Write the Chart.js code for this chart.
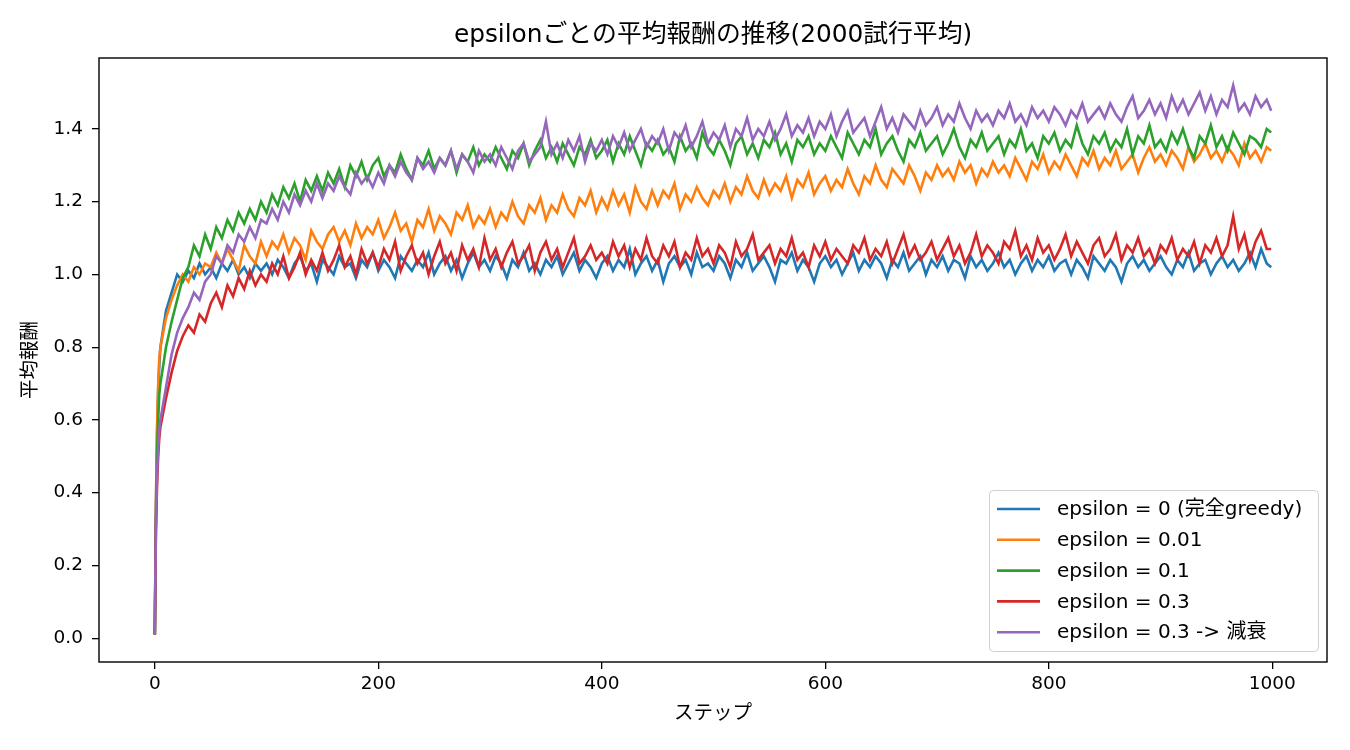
<!DOCTYPE html>
<html>
<head>
<meta charset="utf-8">
<script src="https://cdn.jsdelivr.net/npm/chart.js@4.4.1/dist/chart.umd.min.js"></script>
<style>
  html, body { margin: 0; padding: 0; background: #ffffff; }
  #c { display: block; }
</style>
</head>
<body>
<canvas id="c" width="1350" height="750"></canvas>
<script>
const steps = [
  0, 1, 2, 3, 4,
  5, 10, 15, 20, 25, 30, 35, 40, 45,
  50, 55, 60, 65, 70, 75, 80, 85, 90, 95,
  100, 105, 110, 115, 120, 125, 130, 135, 140, 145,
  150, 155, 160, 165, 170, 175, 180, 185, 190, 195,
  200, 205, 210, 215, 220, 225, 230, 235, 240, 245,
  250, 255, 260, 265, 270, 275, 280, 285, 290, 295,
  300, 305, 310, 315, 320, 325, 330, 335, 340, 345,
  350, 355, 360, 365, 370, 375, 380, 385, 390, 395,
  400, 405, 410, 415, 420, 425, 430, 435, 440, 445,
  450, 455, 460, 465, 470, 475, 480, 485, 490, 495,
  500, 505, 510, 515, 520, 525, 530, 535, 540, 545,
  550, 555, 560, 565, 570, 575, 580, 585, 590, 595,
  600, 605, 610, 615, 620, 625, 630, 635, 640, 645,
  650, 655, 660, 665, 670, 675, 680, 685, 690, 695,
  700, 705, 710, 715, 720, 725, 730, 735, 740, 745,
  750, 755, 760, 765, 770, 775, 780, 785, 790, 795,
  800, 805, 810, 815, 820, 825, 830, 835, 840, 845,
  850, 855, 860, 865, 870, 875, 880, 885, 890, 895,
  900, 905, 910, 915, 920, 925, 930, 935, 940, 945,
  950, 955, 960, 965, 970, 975, 980, 985, 990, 995,
  999
];

const greedy0 = [
  0.01, 0.36, 0.56, 0.68, 0.75,
  0.80, 0.90, 0.95, 1.00, 0.98, 1.01, 0.99, 1.03, 1.00,
  1.02, 0.99, 1.03, 1.01, 1.04, 1.00, 1.02, 0.99, 1.03, 1.01,
  1.03, 1.00, 1.04, 1.02, 0.99, 1.03, 1.05, 1.01, 1.03, 0.98,
  1.04, 1.02, 1.00, 1.05, 1.02, 1.03, 0.99, 1.04, 1.02, 1.06,
  1.01, 1.04, 1.02, 0.99, 1.05, 1.03, 1.01, 1.04, 1.02, 1.06,
  1.00, 1.03, 1.05, 1.01, 1.04, 0.99, 1.03, 1.06, 1.02, 1.04,
  1.01, 1.05, 1.03, 0.99, 1.04, 1.02, 1.06, 1.01, 1.03, 1.00,
  1.04, 1.02, 1.05, 1.00, 1.03, 1.06, 1.01, 1.04, 1.02, 0.99,
  1.03, 1.05, 1.01, 1.04, 1.02, 1.07, 1.00, 1.03, 1.05, 1.01,
  1.04, 0.98, 1.03, 1.05, 1.02, 1.04, 1.00, 1.06, 1.02, 1.03,
  1.01, 1.05, 1.03, 0.99, 1.04, 1.02, 1.06, 1.01, 1.03, 1.05,
  1.02, 0.98, 1.04, 1.03, 1.06, 1.01, 1.04, 1.02, 0.98, 1.03,
  1.05, 1.02, 1.04, 1.00, 1.03, 1.06, 1.01, 1.04, 1.02, 1.05,
  1.03, 0.99, 1.04, 1.02, 1.06, 1.01, 1.03, 1.05, 1.00, 1.04,
  1.02, 1.05, 1.01, 1.04, 1.03, 0.99, 1.05, 1.02, 1.04, 1.01,
  1.03, 1.06, 1.02, 1.04, 1.00, 1.03, 1.05, 1.01, 1.04, 1.02,
  1.05, 1.01, 1.03, 1.04, 1.00, 1.04, 1.02, 0.99, 1.05, 1.03,
  1.01, 1.04, 1.02, 0.98, 1.03, 1.05, 1.02, 1.04, 1.01, 1.03,
  1.05, 1.02, 1.00, 1.04, 1.02, 1.06, 1.01, 1.03, 1.04, 1.00,
  1.03, 1.05, 1.02, 1.04, 1.01, 1.03, 1.06, 1.02, 1.07, 1.03,
  1.02
];

const eps001 = [
  0.01, 0.37, 0.58, 0.70, 0.77,
  0.80, 0.88, 0.93, 0.97, 1.00, 0.98, 1.02, 1.00, 1.03,
  1.02, 1.06, 1.03, 1.07, 1.04, 1.01, 1.08, 1.05, 1.03, 1.09,
  1.05, 1.09, 1.07, 1.11, 1.06, 1.10, 1.08, 1.04, 1.12, 1.09,
  1.07, 1.11, 1.13, 1.09, 1.12, 1.08, 1.14, 1.10, 1.13, 1.11,
  1.15, 1.10, 1.13, 1.17, 1.12, 1.14, 1.09, 1.15, 1.13, 1.18,
  1.12, 1.16, 1.14, 1.11, 1.17, 1.15, 1.19, 1.13, 1.16, 1.14,
  1.18, 1.13, 1.17, 1.15, 1.20, 1.16, 1.14, 1.19, 1.17, 1.21,
  1.15, 1.19, 1.17, 1.22, 1.18, 1.16, 1.21, 1.19, 1.23, 1.17,
  1.21, 1.18, 1.23, 1.19, 1.22, 1.17, 1.24, 1.20, 1.18, 1.23,
  1.19, 1.23, 1.21, 1.25, 1.18, 1.22, 1.20, 1.24, 1.21, 1.19,
  1.23, 1.21, 1.25, 1.20, 1.24, 1.22, 1.27, 1.23, 1.21, 1.26,
  1.22, 1.25, 1.23, 1.27, 1.21, 1.26, 1.24, 1.28, 1.22, 1.25,
  1.27, 1.23, 1.26, 1.24, 1.29, 1.25, 1.22, 1.27, 1.25, 1.30,
  1.26, 1.24, 1.29, 1.27, 1.25, 1.30, 1.27, 1.23, 1.28, 1.26,
  1.30, 1.27, 1.29, 1.26, 1.31, 1.28, 1.30, 1.25, 1.29, 1.27,
  1.31, 1.28, 1.30, 1.27, 1.32, 1.29, 1.26, 1.31, 1.29, 1.33,
  1.28, 1.31, 1.29, 1.33, 1.30, 1.27, 1.32, 1.30, 1.34, 1.29,
  1.32, 1.30, 1.34, 1.29, 1.31, 1.33, 1.28, 1.32, 1.35, 1.31,
  1.33, 1.30, 1.34, 1.32, 1.29, 1.35, 1.31, 1.33, 1.36, 1.32,
  1.34, 1.31, 1.35, 1.33, 1.30, 1.36, 1.32, 1.34, 1.31, 1.35,
  1.34
];

const eps01 = [
  0.01, 0.33, 0.50, 0.60, 0.67,
  0.70, 0.80, 0.87, 0.93, 0.99, 1.02, 1.08, 1.05, 1.11,
  1.07, 1.13, 1.10, 1.15, 1.12, 1.17, 1.14, 1.18, 1.15, 1.20,
  1.17, 1.22, 1.19, 1.24, 1.21, 1.25, 1.20, 1.26, 1.23, 1.27,
  1.23, 1.28, 1.25, 1.29, 1.24, 1.30, 1.27, 1.31, 1.26, 1.30,
  1.32, 1.27, 1.30, 1.28, 1.33, 1.29, 1.26, 1.32, 1.30, 1.34,
  1.29, 1.32, 1.30, 1.34, 1.28, 1.33, 1.31, 1.35, 1.30, 1.33,
  1.31, 1.35, 1.32, 1.29, 1.34, 1.32, 1.36, 1.30, 1.34, 1.37,
  1.32, 1.35, 1.31, 1.36, 1.33, 1.30, 1.35, 1.33, 1.37, 1.32,
  1.34, 1.37, 1.31, 1.36, 1.33, 1.38, 1.34, 1.30, 1.36, 1.34,
  1.37, 1.33, 1.35, 1.31, 1.38, 1.34, 1.36, 1.32, 1.39, 1.35,
  1.33, 1.37, 1.34, 1.30, 1.36, 1.38, 1.33, 1.36, 1.32, 1.37,
  1.35, 1.39, 1.33, 1.36, 1.31, 1.37, 1.35, 1.38, 1.33, 1.36,
  1.34, 1.38, 1.35, 1.32, 1.39, 1.36, 1.33, 1.37, 1.35, 1.40,
  1.33, 1.36, 1.38, 1.34, 1.31, 1.37, 1.35, 1.39, 1.34, 1.36,
  1.38, 1.33, 1.36, 1.40, 1.35, 1.32, 1.37, 1.35, 1.39, 1.34,
  1.36, 1.38, 1.33, 1.37, 1.35, 1.40, 1.34, 1.36, 1.32, 1.38,
  1.36, 1.39, 1.34, 1.37, 1.35, 1.41, 1.36, 1.33, 1.38, 1.36,
  1.39, 1.34, 1.37, 1.35, 1.40, 1.33, 1.38, 1.36, 1.41, 1.35,
  1.37, 1.34, 1.39, 1.36, 1.40, 1.35, 1.32, 1.38, 1.36, 1.41,
  1.35, 1.38, 1.34, 1.39, 1.36, 1.33, 1.38, 1.37, 1.35, 1.40,
  1.39
];

const eps03 = [
  0.01, 0.30, 0.42, 0.50, 0.55,
  0.58, 0.66, 0.73, 0.79, 0.83, 0.86, 0.84, 0.89, 0.87,
  0.92, 0.95, 0.91, 0.97, 0.94, 0.99, 0.96, 1.01, 0.97, 1.00,
  0.98, 1.03, 1.00, 1.05, 0.99, 1.02, 1.06, 1.00, 1.04, 1.01,
  1.06, 1.01, 1.04, 1.08, 1.02, 1.05, 1.00, 1.07, 1.03, 1.06,
  1.02, 1.07, 1.04, 1.09, 1.01, 1.05, 1.08, 1.03, 1.06, 1.00,
  1.05, 1.09, 1.03, 1.06, 1.01, 1.08, 1.04, 1.07, 1.02, 1.10,
  1.04, 1.07, 1.02, 1.06, 1.09, 1.03, 1.05, 1.08, 1.01, 1.06,
  1.09, 1.04, 1.07, 1.02, 1.06, 1.10, 1.03, 1.05, 1.08, 1.04,
  1.06, 1.03, 1.09, 1.05, 1.08, 1.02, 1.07, 1.04, 1.10, 1.05,
  1.03, 1.08, 1.05, 1.09, 1.02, 1.06, 1.04, 1.10, 1.05, 1.07,
  1.03, 1.08, 1.06, 1.02, 1.09, 1.05, 1.07, 1.11, 1.04, 1.06,
  1.08, 1.03, 1.07, 1.05, 1.10, 1.04, 1.06, 1.02, 1.08, 1.05,
  1.09, 1.04, 1.07, 1.05, 1.03, 1.08, 1.06, 1.10, 1.04, 1.07,
  1.05, 1.09, 1.03, 1.07, 1.11, 1.05, 1.08, 1.04, 1.06, 1.09,
  1.04, 1.07, 1.10, 1.05, 1.08, 1.03, 1.06, 1.11, 1.05, 1.08,
  1.06, 1.03, 1.09, 1.07, 1.12, 1.05, 1.08, 1.04, 1.10, 1.06,
  1.08, 1.04, 1.07, 1.11, 1.05, 1.09, 1.06, 1.03, 1.08, 1.10,
  1.05, 1.07, 1.11, 1.04, 1.08, 1.06, 1.10, 1.05, 1.07, 1.03,
  1.08, 1.06, 1.10, 1.04, 1.07, 1.05, 1.09, 1.03, 1.08, 1.06,
  1.10, 1.05, 1.08, 1.16, 1.07, 1.11, 1.04, 1.09, 1.12, 1.07,
  1.07
];

const eps03decay = [
  0.01, 0.32, 0.45, 0.52, 0.57,
  0.60, 0.69, 0.78, 0.84, 0.88, 0.91, 0.95, 0.93, 0.98,
  1.00, 1.05, 1.03, 1.08, 1.06, 1.11, 1.09, 1.13, 1.10, 1.15,
  1.14, 1.18, 1.15, 1.20, 1.17, 1.22, 1.19, 1.23, 1.20, 1.25,
  1.21, 1.25, 1.23, 1.27, 1.24, 1.22, 1.28, 1.25, 1.27, 1.24,
  1.28, 1.25, 1.30, 1.27, 1.31, 1.28, 1.26, 1.32, 1.29, 1.31,
  1.28, 1.32, 1.30, 1.34, 1.29, 1.33, 1.31, 1.28, 1.34, 1.31,
  1.33, 1.30, 1.35, 1.32, 1.29, 1.34, 1.36, 1.31, 1.33, 1.35,
  1.42, 1.33, 1.36, 1.32, 1.37, 1.34, 1.38, 1.31, 1.36, 1.34,
  1.37, 1.33, 1.38, 1.35, 1.39, 1.34, 1.37, 1.40, 1.35, 1.38,
  1.36, 1.40, 1.34, 1.39, 1.37, 1.41, 1.35, 1.38, 1.42, 1.36,
  1.39, 1.37, 1.41, 1.35, 1.40, 1.38, 1.43, 1.37, 1.40, 1.38,
  1.42, 1.37, 1.40, 1.44, 1.38, 1.41, 1.39, 1.43, 1.38, 1.42,
  1.40, 1.44, 1.38, 1.42, 1.45, 1.39, 1.41, 1.43, 1.38, 1.42,
  1.46, 1.40, 1.43, 1.39, 1.44, 1.42, 1.40, 1.45, 1.41, 1.43,
  1.46, 1.41, 1.44, 1.42, 1.47, 1.43, 1.40, 1.45, 1.42, 1.44,
  1.41, 1.45, 1.43, 1.47, 1.42, 1.44, 1.41, 1.46, 1.43, 1.45,
  1.42, 1.46, 1.44, 1.41, 1.45, 1.43, 1.47, 1.42, 1.44, 1.46,
  1.43, 1.47, 1.44, 1.42, 1.46, 1.49, 1.43, 1.45, 1.48, 1.44,
  1.47, 1.43, 1.49, 1.45, 1.48, 1.44, 1.47, 1.50, 1.45, 1.49,
  1.44, 1.48, 1.46, 1.52, 1.45, 1.47, 1.44, 1.49, 1.46, 1.48,
  1.45
];

const seriesLabels = [
  'epsilon = 0 (完全greedy)',
  'epsilon = 0.01',
  'epsilon = 0.1',
  'epsilon = 0.3',
  'epsilon = 0.3 -> 減衰'
];
const seriesValues = [greedy0, eps001, eps01, eps03, eps03decay];
const seriesColors = ['#1f77b4', '#ff7f0e', '#2ca02c', '#d62728', '#9467bd'];

const xTicks = [0, 200, 400, 600, 800, 1000];
const yTicks = [0.0, 0.2, 0.4, 0.6, 0.8, 1.0, 1.2, 1.4];

const titleText = 'epsilonごとの平均報酬の推移(2000試行平均)';
const xLabel = 'ステップ';
const yLabel = '平均報酬';

// ---- chart ----
const FONT = '"DejaVu Sans", "Noto Sans CJK JP", sans-serif';

const datasets = seriesValues.map((vals, i) => ({
  label: seriesLabels[i],
  data: steps.map((s, j) => ({ x: s, y: vals[j] })),
  borderColor: seriesColors[i],
  backgroundColor: seriesColors[i],
  borderWidth: 2.6,
  pointRadius: 0,
  tension: 0,
  fill: false,
  order: seriesValues.length - i
}));

const framePlugin = {
  id: 'frameAndLegend',
  afterDraw(chart) {
    const ctx = chart.ctx;
    const ca = chart.chartArea;
    ctx.save();
    // title centred over the axes
    ctx.font = '24.8px ' + FONT;
    ctx.fillStyle = '#000000';
    ctx.textAlign = 'center';
    ctx.textBaseline = 'middle';
    ctx.fillText(titleText, (ca.left + ca.right) / 2, 36);

    // spines
    ctx.strokeStyle = '#000000';
    ctx.lineWidth = 1.4;
    ctx.strokeRect(ca.left, ca.top, ca.right - ca.left, ca.bottom - ca.top);

    // legend box (lower right, inside axes)
    const bw = 329, bh = 161;
    const bx = ca.right - 9 - bw;
    const by = ca.bottom - 11 - bh;
    ctx.beginPath();
    if (ctx.roundRect) ctx.roundRect(bx + 0.5, by + 0.5, bw, bh, 4);
    else ctx.rect(bx + 0.5, by + 0.5, bw, bh);
    ctx.fillStyle = 'rgba(255,255,255,0.8)';
    ctx.fill();
    ctx.strokeStyle = 'rgba(204,204,204,0.9)';
    ctx.lineWidth = 1;
    ctx.stroke();

    ctx.font = '20px ' + FONT;
    ctx.textBaseline = 'middle';
    ctx.textAlign = 'left';
    chart.data.datasets.forEach((ds, i) => {
      const cy = by + 19 + i * 30.8;
      ctx.strokeStyle = ds.borderColor;
      ctx.lineWidth = 2.6;
      ctx.beginPath();
      ctx.moveTo(bx + 8, cy);
      ctx.lineTo(bx + 51, cy);
      ctx.stroke();
      ctx.fillStyle = '#000000';
      ctx.fillText(ds.label, bx + 68, cy + 1);
    });
    ctx.restore();
  }
};

new Chart(document.getElementById('c'), {
  type: 'line',
  data: { datasets },
  plugins: [framePlugin],
  options: {
    responsive: false,
    animation: false,
    devicePixelRatio: 1,
    layout: { padding: { left: 0, right: 23, top: 58, bottom: 0 } },
    plugins: {
      legend: { display: false },
      tooltip: { enabled: false },
      title: { display: false }
    },
    scales: {
      x: {
        type: 'linear',
        min: -49.95,
        max: 1048.95,
        afterFit(scale) { scale.height = 88; },
        afterBuildTicks(scale) { scale.ticks = xTicks.map(v => ({ value: v })); },
        ticks: {
          color: '#000000',
          font: { family: FONT, size: 18.5 },
          padding: 4,
          maxRotation: 0,
          autoSkip: false,
          callback: v => String(v)
        },
        grid: { display: true, drawOnChartArea: false, drawTicks: true, tickLength: 7, color: '#000000', lineWidth: 1.3 },
        border: { display: false },
        title: {
          display: true,
          text: xLabel,
          color: '#000000',
          font: { family: FONT, size: 19.5 },
          padding: { top: 0, bottom: 24 }
        }
      },
      y: {
        type: 'linear',
        min: -0.0655,
        max: 1.595,
        afterFit(scale) { scale.width = 99; },
        afterBuildTicks(scale) { scale.ticks = yTicks.map(v => ({ value: v })); },
        ticks: {
          color: '#000000',
          font: { family: FONT, size: 18.5 },
          padding: 9,
          autoSkip: false,
          callback: v => Number(v).toFixed(1)
        },
        grid: { display: true, drawOnChartArea: false, drawTicks: true, tickLength: 7, color: '#000000', lineWidth: 1.3 },
        border: { display: false },
        title: {
          display: true,
          text: yLabel,
          color: '#000000',
          font: { family: FONT, size: 19.5 },
          padding: { top: 19, bottom: 0 }
        }
      }
    }
  }
});
</script>
</body>
</html>
